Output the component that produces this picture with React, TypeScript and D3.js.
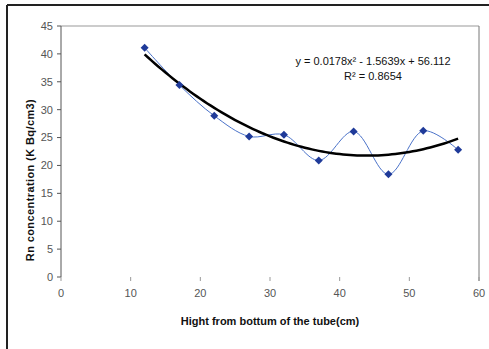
import React from "react";
import * as d3 from "d3";

const heights = [12, 17, 22, 27, 32, 37, 42, 47, 52, 57];
const concentrations = [41.1, 34.4, 28.9, 25.2, 25.5, 20.9, 26.1, 18.4, 26.2, 22.8];
const xTicks = [0, 10, 20, 30, 40, 50, 60];
const yTicks = [0, 5, 10, 15, 20, 25, 30, 35, 40, 45];
const trendCoef = [0.0178, -1.5639, 56.112];
const trendRange = [12, 57];

export default function App() {
  const W = 489, H = 349;
  const left = 61, right = 479, top = 26, bottom = 277;
  const x = d3.scaleLinear().domain([0, 60]).range([left, right]);
  const y = d3.scaleLinear().domain([0, 45]).range([bottom, top]);

  const trendXs = d3.range(trendRange[0], trendRange[1] + 0.001, 0.5);
  const trendLine = d3.line<number>()
    .x(v => x(v))
    .y(v => y(trendCoef[0] * v * v + trendCoef[1] * v + trendCoef[2]))(trendXs);

  const dataLine = d3.line<number>()
    .x((_, i) => x(heights[i]))
    .y(v => y(v))
    .curve(d3.curveCatmullRom.alpha(0.5))(concentrations);

  const font = "'Liberation Sans', Arial, sans-serif";

  return (
    <svg width={W} height={H} style={{ position: "absolute", left: 0, top: 0 }}>
      <rect x={0} y={0} width={W} height={H} fill="#fff" />
      {/* outer frame */}
      <line x1={7} y1={5} x2={W} y2={5} stroke="#222" strokeWidth={2} />
      <line x1={7} y1={5} x2={7} y2={H} stroke="#222" strokeWidth={2} />
      {/* plot area border */}
      <line x1={left} y1={top} x2={right} y2={top} stroke="#999" strokeWidth={1} />
      <line x1={right} y1={top} x2={right} y2={bottom + 4} stroke="#777" strokeWidth={1} />
      <line x1={left} y1={top} x2={left} y2={bottom} stroke="#555" strokeWidth={1} />
      {yTicks.map(t => (
        <g key={"y" + t}>
          <line x1={left - 4} x2={left} y1={y(t)} y2={y(t)} stroke="#555" />
          <text x={left - 8} y={y(t)} dy="0.35em" textAnchor="end" fontSize={11} fill="#555" fontFamily={font}>{t}</text>
        </g>
      ))}
      {xTicks.map(t => (
        <g key={"x" + t}>
          <line x1={x(t)} x2={x(t)} y1={bottom} y2={bottom + 4} stroke="#999" />
          <text x={x(t)} y={bottom + 20} textAnchor="middle" fontSize={11} fill="#555" fontFamily={font}>{t}</text>
        </g>
      ))}
      <path d={dataLine || ""} fill="none" stroke="#4a72c9" strokeWidth={1} />
      <path d={trendLine || ""} fill="none" stroke="#000" strokeWidth={2.5} />
      {concentrations.map((v, i) => {
        const cx = x(heights[i]), cy = y(v);
        return <path key={i} d={`M${cx},${cy - 4}L${cx + 4},${cy}L${cx},${cy + 4}L${cx - 4},${cy}Z`} fill="#1f3a99" />;
      })}
      <text x={373} y={65} textAnchor="middle" fontSize={11} fill="#111" fontFamily={font}>
        y = 0.0178x² - 1.5639x + 56.112
      </text>
      <text x={373} y={80} textAnchor="middle" fontSize={11} fill="#111" fontFamily={font}>
        R² = 0.8654
      </text>
      <text x={270} y={325} textAnchor="middle" fontSize={11} fontWeight="bold" fill="#111" fontFamily={font}>
        Hight from bottum of the tube(cm)
      </text>
      <text transform={`translate(34,180) rotate(-90)`} textAnchor="middle" fontSize={11} fontWeight="bold" fill="#111" fontFamily={font} letterSpacing={0.4}>
        Rn concentration (K Bq/cm3)
      </text>
    </svg>
  );
}
